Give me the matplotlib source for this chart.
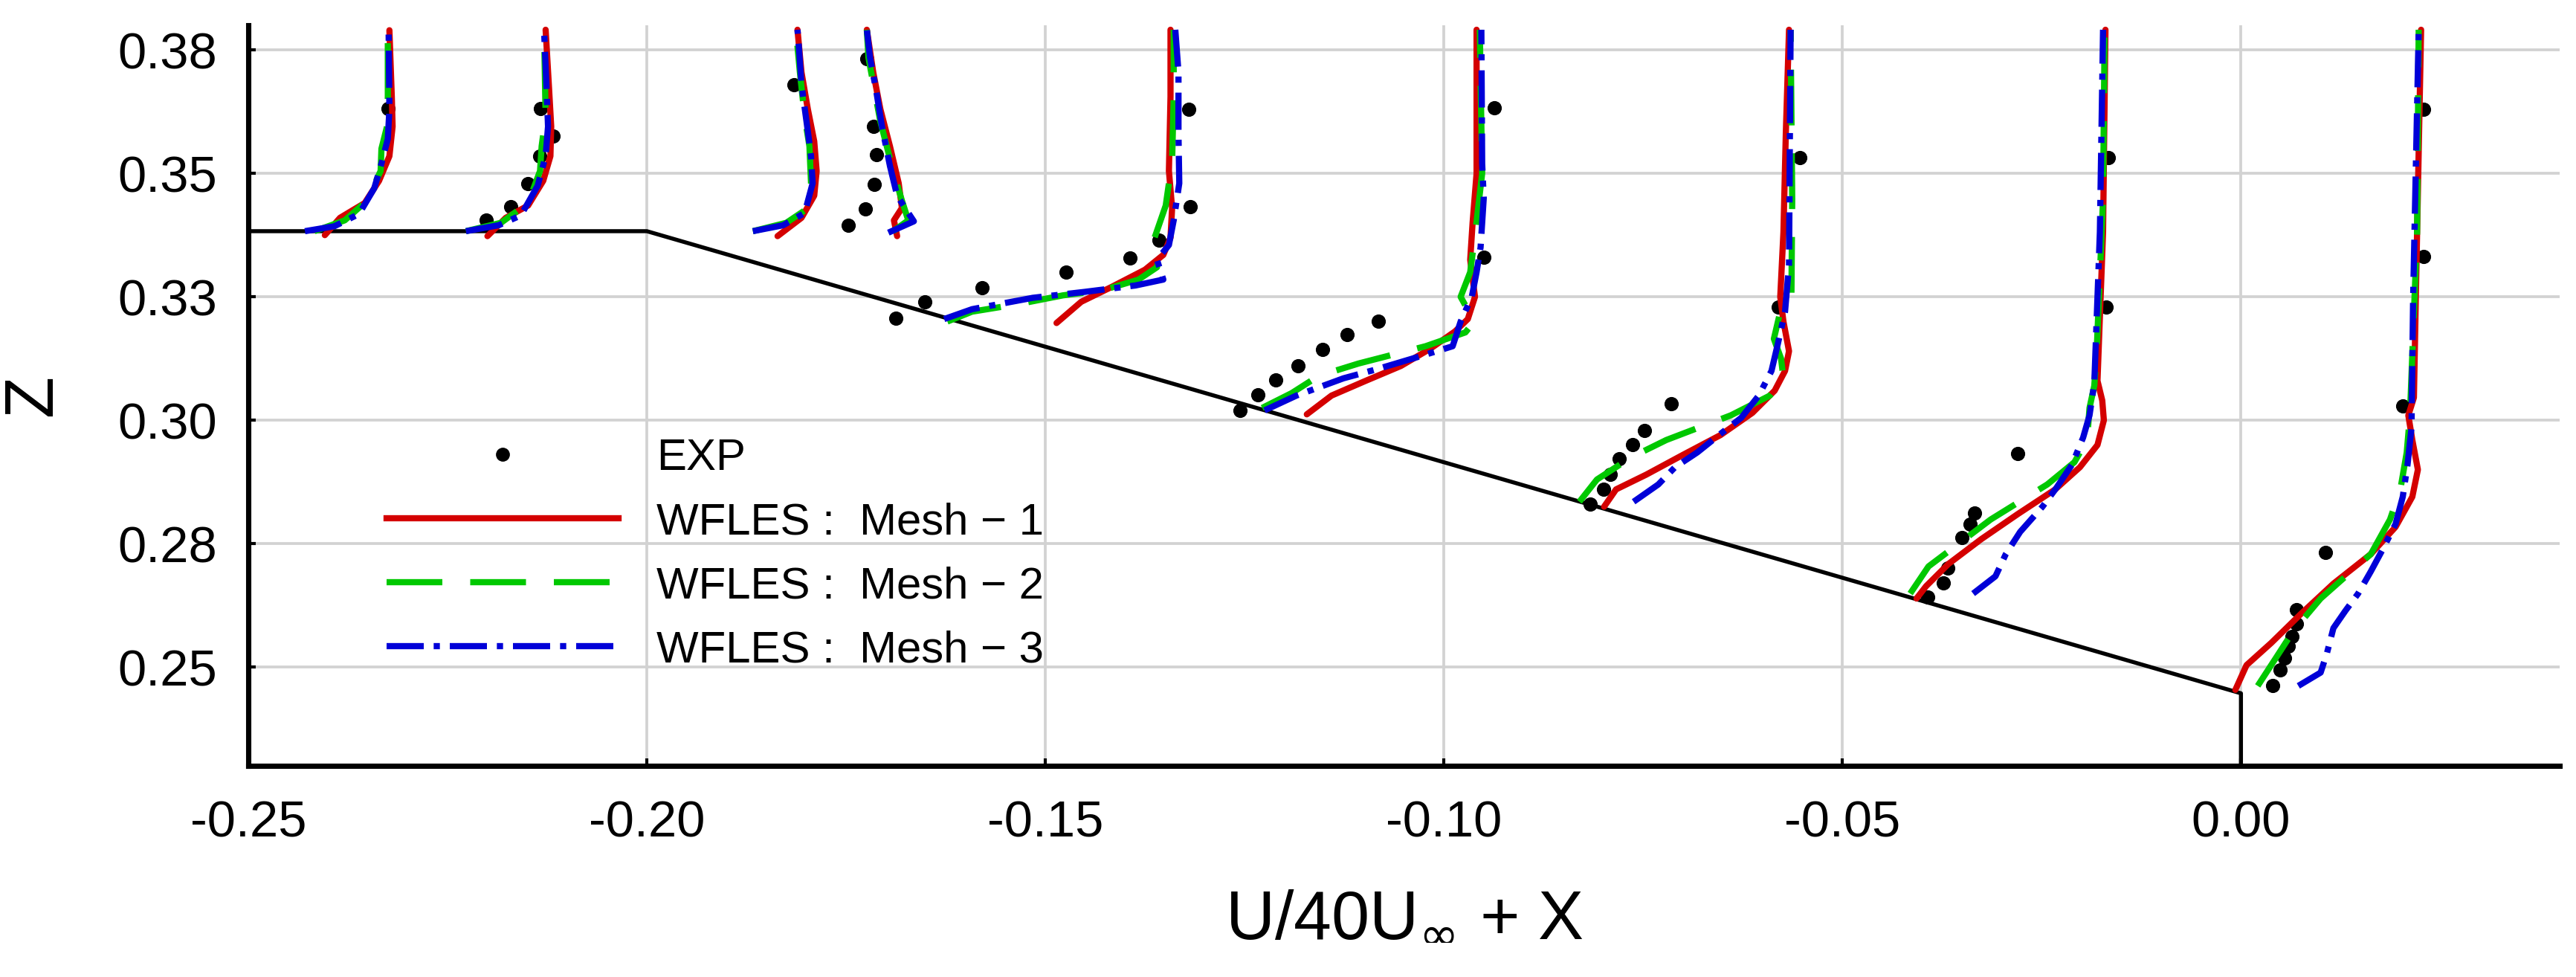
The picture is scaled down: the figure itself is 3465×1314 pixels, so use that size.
import matplotlib as mpl
mpl.use('Agg')
import matplotlib.pyplot as plt
import matplotlib.lines as mlines

plt.rcParams['font.family'] = ['Liberation Sans', 'DejaVu Sans']

# wall geometry (flat plate + 25 deg ramp + step)
wall_x = [-0.25, -0.20, 0.0, 0.0]
wall_z = [0.3383, 0.3383, 0.2447, 0.23]

# WFLES Mesh-1, one list per station (U/40Uinf + X, Z)
mesh1_x = [
    [-0.2404, -0.2385, -0.2354, -0.2336, -0.2323, -0.2319, -0.2320, -0.2323],
    [-0.2200, -0.2177, -0.2149, -0.2130, -0.2121, -0.2120, -0.2123, -0.2127],
    [-0.1836, -0.1806, -0.1790, -0.1787, -0.1790, -0.1798, -0.1806, -0.1811],
    [-0.1686, -0.1690, -0.1680, -0.1684, -0.1695, -0.1707, -0.1716, -0.1724],
    [-0.1486, -0.1455, -0.1417, -0.1375, -0.1352, -0.1343, -0.1341, -0.1345, -0.1343, -0.1343],
    [-0.1172, -0.1141, -0.1098, -0.1054, -0.1017, -0.0986, -0.0970, -0.0961, -0.0967, -0.0964, -0.0959, -0.0959],
    [-0.0799, -0.0784, -0.0746, -0.0700, -0.0653, -0.0613, -0.0585, -0.0572, -0.0567, -0.0574, -0.0578, -0.0574, -0.0571, -0.0567],
    [-0.0407, -0.0395, -0.0367, -0.0326, -0.0280, -0.0233, -0.0202, -0.0180, -0.0172, -0.0174, -0.0180, -0.0173, -0.0170],
    [-0.0007, 0.0007, 0.0038, 0.0076, 0.0116, 0.0163, 0.0194, 0.0215, 0.0222, 0.0215, 0.0210, 0.0217, 0.0221, 0.0226],
]
mesh1_z = [
    [0.3375, 0.3410, 0.3440, 0.3485, 0.3535, 0.3595, 0.3655, 0.3790],
    [0.3373, 0.3410, 0.3435, 0.3485, 0.3535, 0.3595, 0.3680, 0.3791],
    [0.3373, 0.3410, 0.3455, 0.3505, 0.3565, 0.3630, 0.3705, 0.3791],
    [0.3373, 0.3405, 0.3430, 0.3480, 0.3555, 0.3630, 0.3705, 0.3791],
    [0.3197, 0.3240, 0.3270, 0.3305, 0.3335, 0.3370, 0.3430, 0.3505, 0.3655, 0.3791],
    [0.3012, 0.3050, 0.3080, 0.3110, 0.3145, 0.3180, 0.3205, 0.3250, 0.3325, 0.3400, 0.3500, 0.3791],
    [0.2825, 0.2860, 0.2890, 0.2930, 0.2970, 0.3015, 0.3060, 0.3100, 0.3140, 0.3200, 0.3250, 0.3381, 0.3582, 0.3791],
    [0.2639, 0.2664, 0.2709, 0.2759, 0.2810, 0.2860, 0.2905, 0.2950, 0.3000, 0.3040, 0.3080, 0.3381, 0.3791],
    [0.2454, 0.2504, 0.2549, 0.2609, 0.2669, 0.2729, 0.2784, 0.2845, 0.2900, 0.2960, 0.3010, 0.3046, 0.3381, 0.3791],
]

# WFLES Mesh-2
mesh2_x = [
    [-0.2417, -0.2379, -0.2351, -0.2334, -0.2333, -0.2326, -0.2325, -0.2325],
    [-0.2227, -0.2183, -0.2149, -0.2134, -0.2132, -0.2127, -0.2129],
    [-0.1867, -0.1825, -0.1802, -0.1794, -0.1796, -0.1802, -0.1808, -0.1813],
    [-0.1691, -0.1672, -0.1680, -0.1691, -0.1707, -0.1714, -0.1722, -0.1724],
    [-0.1623, -0.1592, -0.1535, -0.1478, -0.1429, -0.1383, -0.1360, -0.1356, -0.1364, -0.1349, -0.1341, -0.1339, -0.1339],
    [-0.1228, -0.1191, -0.1157, -0.1107, -0.1023, -0.0973, -0.0962, -0.0979, -0.0967, -0.0961, -0.0952, -0.0955],
    [-0.0830, -0.0808, -0.0765, -0.0721, -0.0640, -0.0591, -0.0574, -0.0577, -0.0586, -0.0578, -0.0564, -0.0563, -0.0565],
    [-0.0415, -0.0392, -0.0355, -0.0314, -0.0243, -0.0209, -0.0193, -0.0190, -0.0184, -0.0181, -0.0173, -0.0171],
    [0.0021, 0.0044, 0.0066, 0.0100, 0.0163, 0.0187, 0.0200, 0.0208, 0.0212, 0.0221, 0.0223],
]
mesh2_z = [
    [0.3383, 0.3405, 0.3445, 0.3505, 0.3550, 0.3595, 0.3655, 0.3790],
    [0.3383, 0.3400, 0.3440, 0.3505, 0.3555, 0.3615, 0.3791],
    [0.3383, 0.3400, 0.3425, 0.3480, 0.3555, 0.3615, 0.3705, 0.3791],
    [0.3383, 0.3405, 0.3445, 0.3505, 0.3605, 0.3665, 0.3735, 0.3791],
    [0.3200, 0.3220, 0.3235, 0.3253, 0.3263, 0.3285, 0.3310, 0.3345, 0.3365, 0.3435, 0.3525, 0.3655, 0.3791],
    [0.3025, 0.3055, 0.3090, 0.3115, 0.3150, 0.3178, 0.3200, 0.3250, 0.3300, 0.3375, 0.3500, 0.3791],
    [0.2835, 0.2880, 0.2925, 0.2960, 0.3010, 0.3050, 0.3085, 0.3125, 0.3165, 0.3220, 0.3250, 0.3448, 0.3791],
    [0.2649, 0.2704, 0.2749, 0.2799, 0.2870, 0.2915, 0.2960, 0.3025, 0.3070, 0.3140, 0.3448, 0.3791],
    [0.2462, 0.2519, 0.2574, 0.2639, 0.2729, 0.2799, 0.2860, 0.2935, 0.3010, 0.3381, 0.3791],
]

# WFLES Mesh-3
mesh3_x = [
    [-0.2429, -0.2392, -0.2361, -0.2342, -0.2333, -0.2325, -0.2323, -0.2324],
    [-0.2227, -0.2186, -0.2158, -0.2137, -0.2127, -0.2124, -0.2126, -0.2129],
    [-0.1867, -0.1829, -0.1802, -0.1792, -0.1794, -0.1798, -0.1806, -0.1809, -0.1811],
    [-0.1697, -0.1665, -0.1674, -0.1686, -0.1695, -0.1705, -0.1712, -0.1720, -0.1724],
    [-0.1627, -0.1592, -0.1516, -0.1451, -0.1387, -0.1352, -0.1360, -0.1345, -0.1339, -0.1332, -0.1333, -0.1333, -0.1337],
    [-0.1225, -0.1185, -0.1126, -0.1085, -0.1029, -0.0989, -0.0979, -0.0965, -0.0959, -0.0954, -0.0950, -0.0952, -0.0953],
    [-0.0762, -0.0731, -0.0710, -0.0682, -0.0651, -0.0627, -0.0605, -0.0589, -0.0581, -0.0572, -0.0567, -0.0565],
    [-0.0336, -0.0308, -0.0295, -0.0277, -0.0249, -0.0232, -0.0212, -0.0198, -0.0190, -0.0184, -0.0177, -0.0173],
    [0.0072, 0.0100, 0.0108, 0.0116, 0.0131, 0.0147, 0.0163, 0.0178, 0.0194, 0.0203, 0.0209, 0.0214, 0.0216, 0.0223],
]
mesh3_z = [
    [0.3383, 0.3393, 0.3418, 0.3470, 0.3520, 0.3570, 0.3630, 0.3790],
    [0.3383, 0.3395, 0.3415, 0.3475, 0.3535, 0.3595, 0.3680, 0.3791],
    [0.3383, 0.3395, 0.3420, 0.3480, 0.3535, 0.3585, 0.3680, 0.3750, 0.3791],
    [0.3380, 0.3403, 0.3425, 0.3455, 0.3515, 0.3595, 0.3665, 0.3735, 0.3791],
    [0.3205, 0.3225, 0.3248, 0.3260, 0.3273, 0.3285, 0.3325, 0.3355, 0.3405, 0.3480, 0.3580, 0.3705, 0.3791],
    [0.3020, 0.3050, 0.3085, 0.3103, 0.3130, 0.3150, 0.3200, 0.3250, 0.3300, 0.3350, 0.3450, 0.3520, 0.3791],
    [0.2835, 0.2870, 0.2905, 0.2935, 0.2975, 0.3005, 0.3050, 0.3100, 0.3155, 0.3220, 0.3315, 0.3791],
    [0.2649, 0.2684, 0.2729, 0.2774, 0.2825, 0.2862, 0.2910, 0.2965, 0.3010, 0.3075, 0.3381, 0.3791],
    [0.2462, 0.2489, 0.2529, 0.2579, 0.2614, 0.2649, 0.2694, 0.2739, 0.2790, 0.2845, 0.2910, 0.2985, 0.3247, 0.3791],
]

# experiment
exp_x = [
    [-0.2325],
    [-0.2202, -0.2171, -0.2149, -0.2134, -0.2118, -0.2133],
    [-0.1815],
    [-0.1747, -0.1726, -0.1715, -0.1712, -0.1716, -0.1724],
    [-0.1688, -0.1651, -0.1579, -0.1474, -0.1394, -0.1357, -0.1318, -0.1320],
    [-0.1256, -0.1233, -0.1211, -0.1183, -0.1152, -0.1121, -0.1082, -0.0950, -0.0937],
    [-0.0816, -0.0800, -0.0791, -0.0780, -0.0763, -0.0748, -0.0715, -0.0580, -0.0553],
    [-0.0393, -0.0373, -0.0368, -0.0350, -0.0340, -0.0334, -0.0280, -0.0169, -0.0166],
    [0.0040, 0.0049, 0.0055, 0.0059, 0.0064, 0.0070, 0.0070, 0.0106, 0.0203, 0.0229, 0.0229],
]
exp_z = [
    [0.3631],
    [0.3405, 0.3433, 0.3480, 0.3535, 0.3575, 0.3631],
    [0.3680],
    [0.3395, 0.3428, 0.3478, 0.3538, 0.3595, 0.3733],
    [0.3207, 0.3240, 0.3268, 0.3300, 0.3328, 0.3365, 0.3433, 0.3630],
    [0.3020, 0.3052, 0.3082, 0.3110, 0.3143, 0.3173, 0.3200, 0.3330, 0.3633],
    [0.2830, 0.2860, 0.2890, 0.2922, 0.2950, 0.2980, 0.3033, 0.3230, 0.3532],
    [0.2642, 0.2670, 0.2700, 0.2762, 0.2790, 0.2812, 0.2932, 0.3230, 0.3532],
    [0.2462, 0.2494, 0.2519, 0.2542, 0.2562, 0.2587, 0.2617, 0.2732, 0.3029, 0.3331, 0.3630],
]

xticks = [-0.25, -0.20, -0.15, -0.10, -0.05, 0.00]
xtick_labels = ['-0.25', '-0.20', '-0.15', '-0.10', '-0.05', '0.00']
yticks = [0.25, 0.275, 0.30, 0.325, 0.35, 0.375]
ytick_labels = ['0.25', '0.28', '0.30', '0.33', '0.35', '0.38']

red = '#d40000'
green = '#00c800'
blue = '#0000d8'
lw = 2.0
dash_m2 = (9, 4.5)
dash_m3 = (6, 1.6, 1.0, 1.6)

fig = plt.figure(figsize=(11.55, 4.38))
ax = fig.add_axes([0.0964, 0.2161, 0.8973, 0.7580])

ax.plot(wall_x, wall_z, color='black', lw=1.3, zorder=3)

for xs, zs in zip(exp_x, exp_z):
    ax.plot(xs, zs, 'o', color='black', ms=4.6, mec='none', zorder=4)
for xs, zs in zip(mesh1_x, mesh1_z):
    ax.plot(xs, zs, color=red, lw=lw, solid_capstyle='round', zorder=5)
for xs, zs in zip(mesh2_x, mesh2_z):
    ax.plot(xs, zs, color=green, lw=lw, dashes=dash_m2, zorder=6)
for xs, zs in zip(mesh3_x, mesh3_z):
    ax.plot(xs, zs, color=blue, lw=lw, dashes=dash_m3, zorder=7)

ax.set_xlim(-0.25, 0.04)
ax.set_ylim(0.23, 0.38)
ax.set_xticks(xticks)
ax.set_xticklabels(xtick_labels)
ax.set_yticks(yticks)
ax.set_yticklabels(ytick_labels)
ax.tick_params(direction='in', length=2.5, width=1, labelsize=16.5, pad=10)
ax.tick_params(axis='x', pad=11)
ax.grid(True, color='#d2d2d2', lw=0.9)
ax.set_axisbelow(True)

for s in ['top', 'right']:
    ax.spines[s].set_visible(False)
for s in ['left', 'bottom']:
    ax.spines[s].set_linewidth(1.7)

ax.set_xlabel(r'U/40U$_{\infty}$ + X', fontsize=22)
ax.xaxis.set_label_coords(0.5, -0.16)
ax.set_ylabel('Z', fontsize=22)
ax.yaxis.set_label_coords(-0.079, 0.5)

exp_leg = mlines.Line2D([], [], color='black', marker='o', ls='None', ms=4.5, mec='none', label='EXP')
m1_leg = mlines.Line2D([], [], color=red, lw=lw, label='WFLES :  Mesh − 1')
m2_leg = mlines.Line2D([], [], color=green, lw=lw, dashes=dash_m2, label='WFLES :  Mesh − 2')
m3_leg = mlines.Line2D([], [], color=blue, lw=lw, dashes=dash_m3, label='WFLES :  Mesh − 3')
ax.legend(handles=[exp_leg, m1_leg, m2_leg, m3_leg], loc='upper left',
          bbox_to_anchor=(0.0598, 0.443), frameon=False, borderpad=0,
          borderaxespad=0, handlelength=5.2, handletextpad=0.85,
          labelspacing=0.52, fontsize=14.4)

plt.savefig('out.png', dpi=300)
